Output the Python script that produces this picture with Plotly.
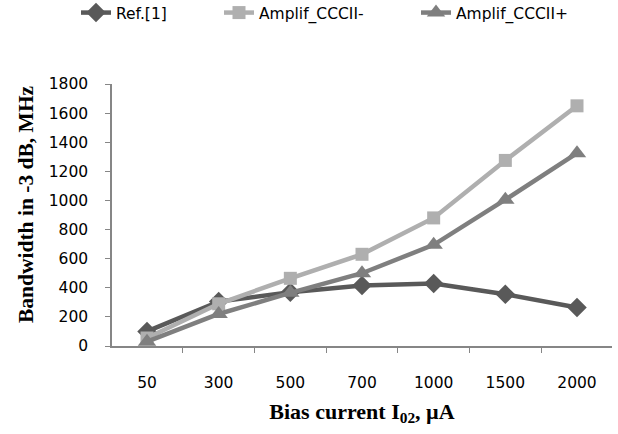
import plotly.graph_objects as go

categories = ["50", "300", "500", "700", "1000", "1500", "2000"]
ref1 = [100, 305, 370, 415, 430, 355, 265]
cccii_minus = [55, 290, 465, 630, 880, 1275, 1650]
cccii_plus = [30, 220, 365, 500, 695, 1005, 1325]

fig = go.Figure()
fig.add_trace(go.Scatter(x=categories, y=ref1, name="Ref.[1]", mode="lines+markers",
                         line=dict(color="#595959", width=4.5), legend="legend", showlegend=True,
                         marker=dict(symbol="diamond", size=15, color="#595959")))
fig.add_trace(go.Scatter(x=categories, y=cccii_minus, name="Amplif_CCCII-", mode="lines+markers",
                         line=dict(color="#afafaf", width=4.5), legend="legend2", showlegend=True,
                         marker=dict(symbol="square", size=13, color="#afafaf")))
fig.add_trace(go.Scatter(x=categories, y=cccii_plus, name="Amplif_CCCII+", mode="lines+markers",
                         line=dict(color="#7f7f7f", width=4.5), legend="legend3", showlegend=True,
                         marker=dict(symbol="triangle-up", size=16, color="#7f7f7f")))

W = 500.0
H = 262.0
def px_x(p):
    return (p - 112) / W

leg_common = dict(orientation="h", yref="container", y=1 - 13 / 434.0, yanchor="middle",
                  xref="container", xanchor="left", font=dict(size=15.5), bgcolor="rgba(0,0,0,0)")

fig.update_layout(
    width=618, height=434,
    showlegend=True,
    margin=dict(l=112, r=6, t=84, b=88, autoexpand=False),
    plot_bgcolor="white", paper_bgcolor="white",
    font=dict(family="DejaVu Sans, sans-serif", size=15.5, color="black"),
    legend=dict(x=76 / 618.0, **leg_common),
    legend2=dict(x=219 / 618.0, **leg_common),
    legend3=dict(x=416 / 618.0, **leg_common),
    xaxis=dict(type="category", showgrid=False, showline=True, linecolor="#868686", linewidth=1.5,
               ticks="outside", tickson="boundaries", ticklen=5, tickcolor="#868686",
               ticklabelstandoff=22, automargin=False,
               title=dict(text="<b>Bias current I<sub>02</sub>, µA</b>",
                          font=dict(family="Liberation Serif, Times New Roman, serif", size=22),
                          standoff=12)),
    yaxis=dict(range=[0, 1800], dtick=200, showgrid=False, showline=True, linecolor="#868686", linewidth=1.5,
               ticks="outside", ticklen=5, tickcolor="#868686", zeroline=False,
               ticklabelstandoff=14, automargin=False),
    annotations=[dict(text="<b>Bandwidth in -3 dB, MHz</b>", textangle=-90, showarrow=False,
                      xref="paper", yref="paper", x=px_x(26), y=(346 - 204) / H,
                      xanchor="center", yanchor="middle",
                      font=dict(family="Liberation Serif, Times New Roman, serif", size=21.5))],
)
fig.write_html("out.html", config={"displayModeBar": False},
               post_script="document.body.style.margin='0';")
